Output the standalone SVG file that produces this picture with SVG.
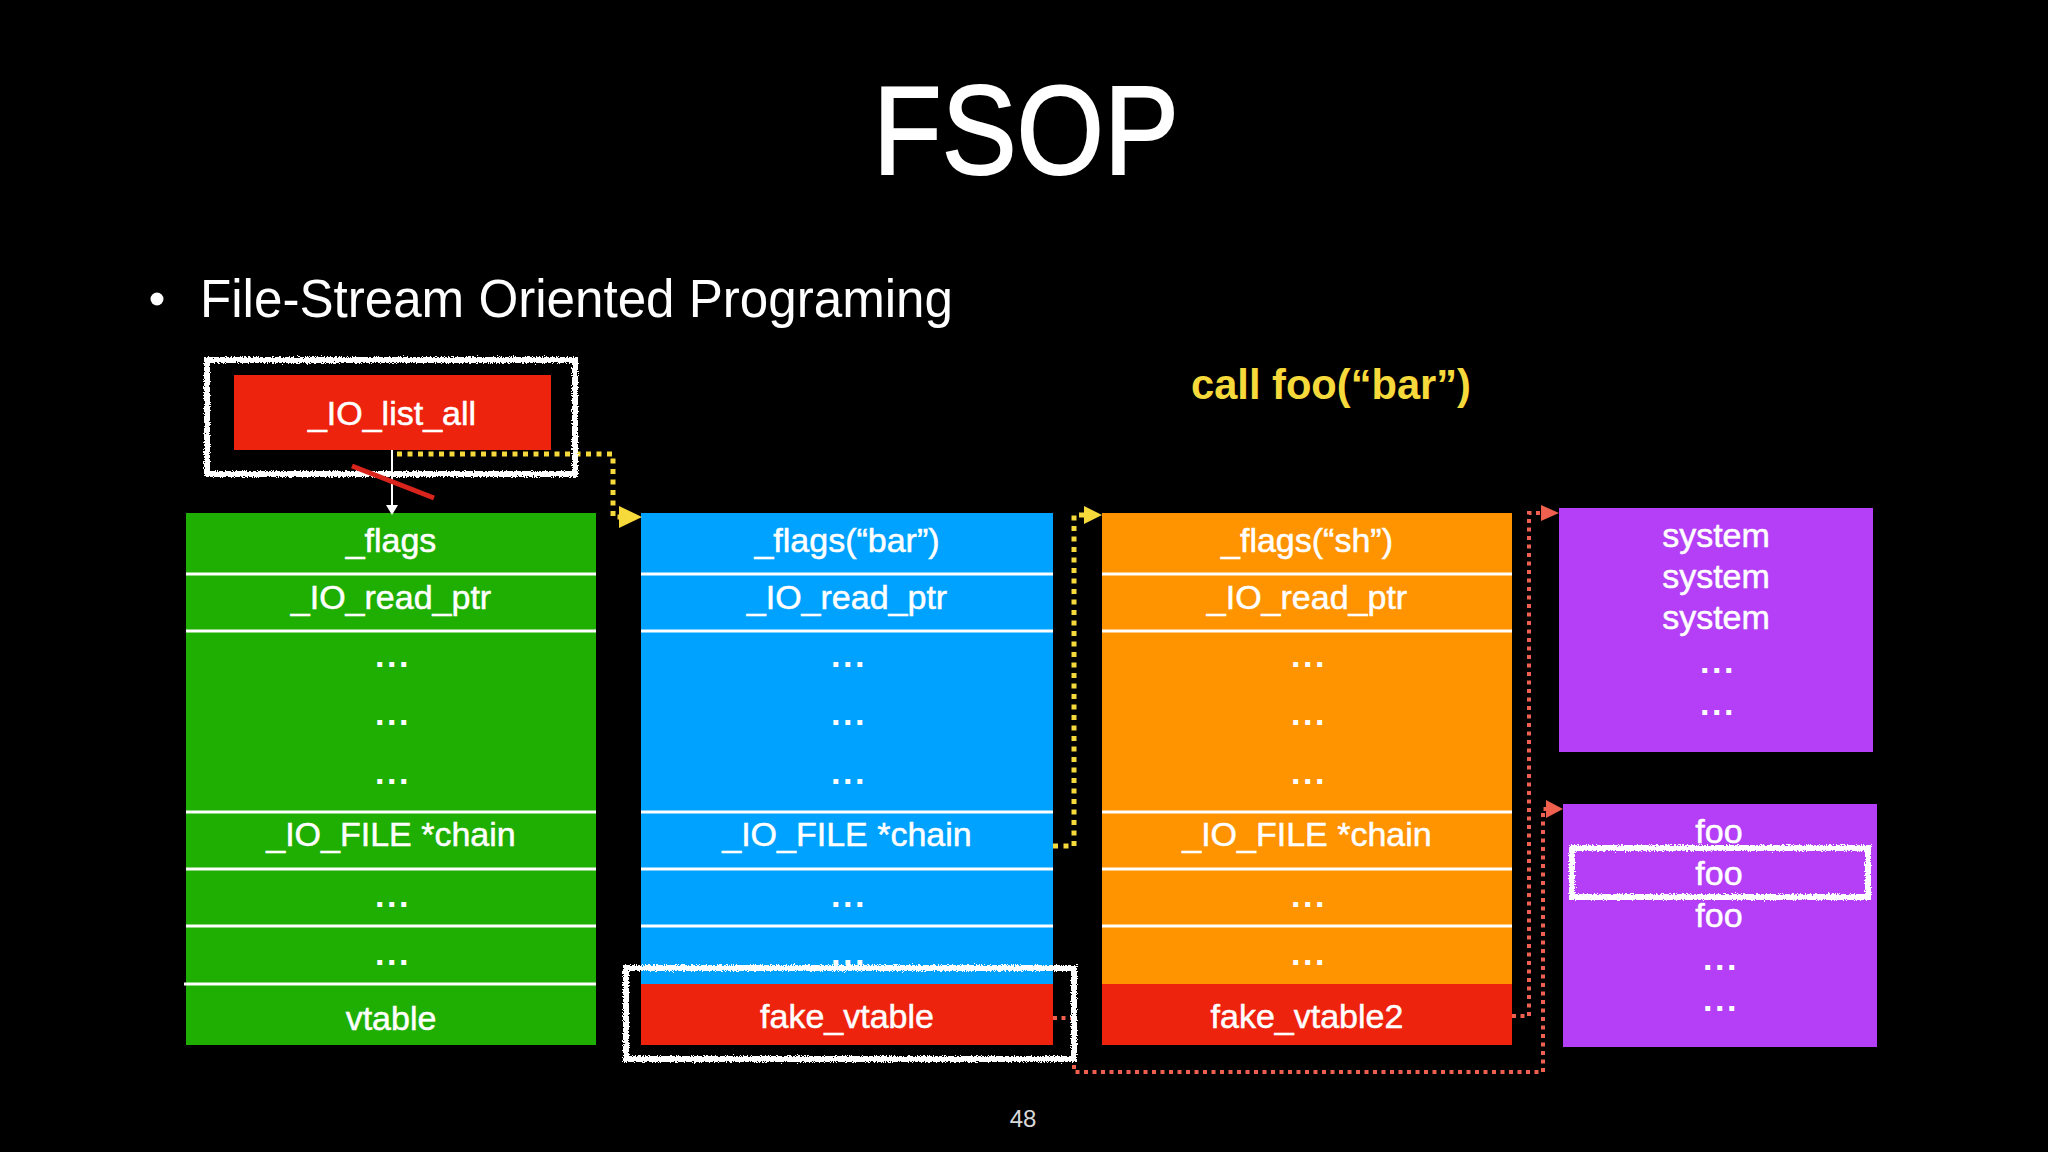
<svg xmlns="http://www.w3.org/2000/svg" width="2048" height="1152" viewBox="0 0 2048 1152">
<defs>
<style>
text{font-family:"Liberation Sans",Arial,Helvetica,sans-serif;fill:#fff}
.lbl{font-size:34px;text-anchor:middle;stroke:#fff;stroke-width:0.5}
.dots{font-weight:bold;letter-spacing:2.5px;stroke:none}
.div{stroke:#fff;stroke-width:3}
.ydot{fill:none;stroke:#F6D93A;stroke-width:5;stroke-dasharray:5 5.5}
.yhead{fill:#F6D93A}
.rdot{fill:none;stroke:#EF604F;stroke-width:4;stroke-dasharray:4 4.5}
.rhead{fill:#EF604F}
.chalk{fill:none;stroke:#fff;stroke-width:6;filter:url(#chalk)}
.green{fill:#1FAF02}
.blue{fill:#00A2FF}
.orange{fill:#FF9300}
.red{fill:#EE230D}
.purple{fill:#B43FF6}
</style>
<filter id="chalk" x="-10%" y="-20%" width="120%" height="140%">
<feTurbulence type="fractalNoise" baseFrequency="0.9" numOctaves="2" seed="4" result="n"/>
<feDisplacementMap in="SourceGraphic" in2="n" scale="5" xChannelSelector="R" yChannelSelector="G"/>
</filter>
</defs>
<rect width="2048" height="1152" fill="#000"/>

<g id="title">
<text x="1026" y="174" font-size="127" text-anchor="middle" stroke="#fff" stroke-width="2" textLength="306" lengthAdjust="spacingAndGlyphs">FSOP</text>
</g>
<g id="bullet">
<circle cx="157" cy="299" r="6.5" fill="#fff"/>
<text x="200" y="317" font-size="54" textLength="753" lengthAdjust="spacingAndGlyphs">File-Stream Oriented Programing</text>
</g>
<g id="call-label">
<text x="1331" y="399" font-size="42" font-weight="bold" text-anchor="middle" style="fill:#F6D93A" textLength="280" lengthAdjust="spacingAndGlyphs">call foo(“bar”)</text>
</g>

<g id="io-list-all">
<rect class="red" x="234" y="375" width="317" height="75"/>
<text class="lbl" x="392" y="425">_IO_list_all</text>
</g>

<g id="file-green">
<rect class="green" x="186" y="513" width="410" height="532"/>
<line class="div" x1="186" y1="574" x2="596" y2="574"/>
<line class="div" x1="186" y1="631" x2="596" y2="631"/>
<line class="div" x1="186" y1="812" x2="596" y2="812"/>
<line class="div" x1="186" y1="869" x2="596" y2="869"/>
<line class="div" x1="186" y1="926" x2="596" y2="926"/>
<line class="div" x1="184" y1="984" x2="596" y2="984"/>
<text class="lbl" x="391" y="552">_flags</text>
<text class="lbl" x="391" y="609">_IO_read_ptr</text>
<text class="lbl dots" x="393" y="667">...</text>
<text class="lbl dots" x="393" y="725">...</text>
<text class="lbl dots" x="393" y="784">...</text>
<text class="lbl" x="391" y="846">_IO_FILE *chain</text>
<text class="lbl dots" x="393" y="907">...</text>
<text class="lbl dots" x="393" y="965">...</text>
<text class="lbl" x="391" y="1030">vtable</text>
</g>

<g id="file-blue">
<rect class="blue" x="641" y="513" width="412" height="532"/>
<line class="div" x1="641" y1="574" x2="1053" y2="574"/>
<line class="div" x1="641" y1="631" x2="1053" y2="631"/>
<line class="div" x1="641" y1="812" x2="1053" y2="812"/>
<line class="div" x1="641" y1="869" x2="1053" y2="869"/>
<line class="div" x1="641" y1="926" x2="1053" y2="926"/>
<rect class="red" x="641" y="984" width="412" height="61"/>
<text class="lbl" x="847" y="552">_flags(“bar”)</text>
<text class="lbl" x="847" y="609">_IO_read_ptr</text>
<text class="lbl dots" x="849" y="667">...</text>
<text class="lbl dots" x="849" y="725">...</text>
<text class="lbl dots" x="849" y="784">...</text>
<text class="lbl" x="847" y="846">_IO_FILE *chain</text>
<text class="lbl dots" x="849" y="907">...</text>
<text class="lbl dots" x="849" y="965">...</text>
<text class="lbl" x="847" y="1028">fake_vtable</text>
</g>

<g id="file-orange">
<rect class="orange" x="1102" y="513" width="410" height="532"/>
<line class="div" x1="1102" y1="574" x2="1512" y2="574"/>
<line class="div" x1="1102" y1="631" x2="1512" y2="631"/>
<line class="div" x1="1102" y1="812" x2="1512" y2="812"/>
<line class="div" x1="1102" y1="869" x2="1512" y2="869"/>
<line class="div" x1="1102" y1="926" x2="1512" y2="926"/>
<rect class="red" x="1102" y="984" width="410" height="61"/>
<text class="lbl" x="1307" y="552">_flags(“sh”)</text>
<text class="lbl" x="1307" y="609">_IO_read_ptr</text>
<text class="lbl dots" x="1309" y="667">...</text>
<text class="lbl dots" x="1309" y="725">...</text>
<text class="lbl dots" x="1309" y="784">...</text>
<text class="lbl" x="1307" y="846">_IO_FILE *chain</text>
<text class="lbl dots" x="1309" y="907">...</text>
<text class="lbl dots" x="1309" y="965">...</text>
<text class="lbl" x="1307" y="1028">fake_vtable2</text>
</g>

<g id="vtable-system">
<rect class="purple" x="1559" y="508" width="314" height="244"/>
<text class="lbl" x="1716" y="547">system</text>
<text class="lbl" x="1716" y="588">system</text>
<text class="lbl" x="1716" y="629">system</text>
<text class="lbl dots" x="1718" y="673">...</text>
<text class="lbl dots" x="1718" y="715">...</text>
</g>

<g id="vtable-foo">
<rect class="purple" x="1563" y="804" width="314" height="243"/>
<text class="lbl" x="1719" y="843">foo</text>
<text class="lbl" x="1719" y="885">foo</text>
<text class="lbl" x="1719" y="927">foo</text>
<text class="lbl dots" x="1721" y="970">...</text>
<text class="lbl dots" x="1721" y="1011">...</text>
</g>

<g id="connectors">
<line x1="392" y1="450" x2="392" y2="507" stroke="#fff" stroke-width="2"/>
<polygon points="386,505 398,505 392,515" fill="#fff"/>
<path class="ydot" d="M397,454 H613 V517 H619"/>
<polygon class="yhead" points="619,506 642,517 619,528"/>
<path class="ydot" d="M1053,846 H1074 V515 H1084"/>
<polygon class="yhead" points="1084,506 1102,515 1084,524"/>
<path class="rdot" d="M1053,1018 H1074 V1072 H1543 V809 H1547"/>
<polygon class="rhead" points="1546,800 1563,809 1546,818"/>
<path class="rdot" d="M1512,1016 H1529 V513 H1542"/>
<polygon class="rhead" points="1541,505 1559,513 1541,521"/>
</g>

<g id="highlights">
<rect class="chalk" x="207" y="360" width="368" height="114"/>
<rect class="chalk" x="626" y="968" width="448" height="91"/>
<rect class="chalk" x="1572" y="848" width="296" height="49"/>
</g>

<g id="cut-mark">
<line x1="352" y1="466" x2="434" y2="498" stroke="#D9241C" stroke-width="5"/>
</g>

<g id="page-number">
<text x="1023" y="1127" font-size="24" text-anchor="middle" style="fill:#d8d8d8">48</text>
</g>
</svg>
